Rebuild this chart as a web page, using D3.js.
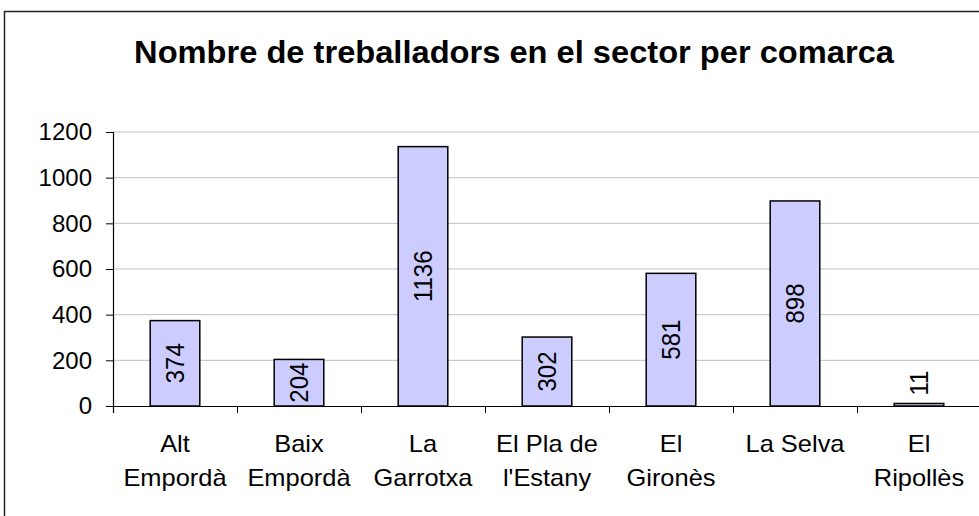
<!DOCTYPE html>
<html><head><meta charset="utf-8">
<script src="https://cdn.jsdelivr.net/npm/d3@7"></script>
<style>body{margin:0;background:#fff;}svg{display:block;font-family:"Liberation Sans",Arial,sans-serif;}</style>
</head><body><svg id="c" width="979" height="516"></svg>
<script>
const title = "Nombre de treballadors en el sector per comarca";
const categories = [["Alt","Empordà"],["Baix","Empordà"],["La","Garrotxa"],["El Pla de","l'Estany"],["El","Gironès"],["La Selva"],["El","Ripollès"]];
const values = [374, 204, 1136, 302, 581, 898, 11];
const yTicks = [0, 200, 400, 600, 800, 1000, 1200];

const svg = d3.select("#c");
const M = {left:113, top:132, right:981, bottom:406};

// outer frame (clipped on right/bottom as in reference)
svg.append("rect").attr("x",4.5).attr("y",11.5).attr("width",1000).attr("height",600)
  .attr("fill","#fff").attr("stroke","#222").attr("stroke-width",1.5);

svg.append("text").attr("transform","translate(514,63) scale(1.02,1)").attr("text-anchor","middle")
  .attr("font-size",32).attr("font-weight","bold").attr("fill","#000").text(title);

const x = d3.scaleBand().domain(d3.range(values.length)).range([M.left, M.right]).paddingInner(0).paddingOuter(0);
const y = d3.scaleLinear().domain([0,1200]).range([M.bottom, M.top]);

// gridlines
svg.append("g").selectAll("line").data(yTicks.filter(d=>d>0)).join("line")
  .attr("x1",M.left).attr("x2",M.right).attr("y1",d=>y(d)).attr("y2",d=>y(d))
  .attr("stroke","#c0c0c0").attr("stroke-width",1);

// bars
const bw = x.bandwidth()*0.4;
svg.append("g").selectAll("rect").data(values).join("rect")
  .attr("x",(d,i)=>x(i)+x.bandwidth()/2-bw/2).attr("width",bw)
  .attr("y",d=>y(d)).attr("height",d=>y(0)-y(d))
  .attr("fill","#ccccff").attr("stroke","#000").attr("stroke-width",1.5);

// y axis
const ya = svg.append("g").attr("transform",`translate(${M.left},0)`)
  .call(d3.axisLeft(y).tickValues(yTicks).tickSize(7).tickPadding(14).tickFormat(d3.format("d")));
ya.select(".domain").attr("stroke","#000").attr("stroke-width",1.2);
ya.selectAll(".tick line").attr("stroke","#000");
ya.selectAll("text").attr("font-size",24).attr("font-family","Liberation Sans, Arial, sans-serif").attr("fill","#000");

// x axis line + ticks at band boundaries
const xa = svg.append("g").attr("transform",`translate(0,${M.bottom})`)
  .call(d3.axisBottom(d3.scaleLinear().domain([0,values.length]).range([M.left,M.right]))
    .tickValues(d3.range(values.length+1)).tickSize(7).tickFormat(""));
xa.select(".domain").attr("stroke","#000").attr("stroke-width",1.2);
xa.selectAll(".tick line").attr("stroke","#000");

// category labels
const cl = svg.append("g").selectAll("text").data(categories).join("text")
  .attr("transform",(d,i)=>`translate(${x(i)+x.bandwidth()/2},452) scale(1.06,1)`)
  .attr("text-anchor","middle").attr("font-size",24).attr("fill","#000");
cl.selectAll("tspan").data(d=>d).join("tspan")
  .attr("x",0).attr("dy",(d,i)=>i===0?0:34).text(d=>d);

// value labels (rotated, centered in bar)
svg.append("g").selectAll("text").data(values).join("text")
  .attr("transform",(d,i)=>{
    const cx = x(i)+x.bandwidth()/2;
    const cy = Math.min((y(d)+y(0))/2, y(0)-23);
    return `translate(${cx},${cy}) scale(1.1,1) rotate(-90)`;
  })
  .attr("text-anchor","middle").attr("dominant-baseline","central")
  .attr("font-size",24).attr("fill","#000").text(d=>d);
</script></body></html>
